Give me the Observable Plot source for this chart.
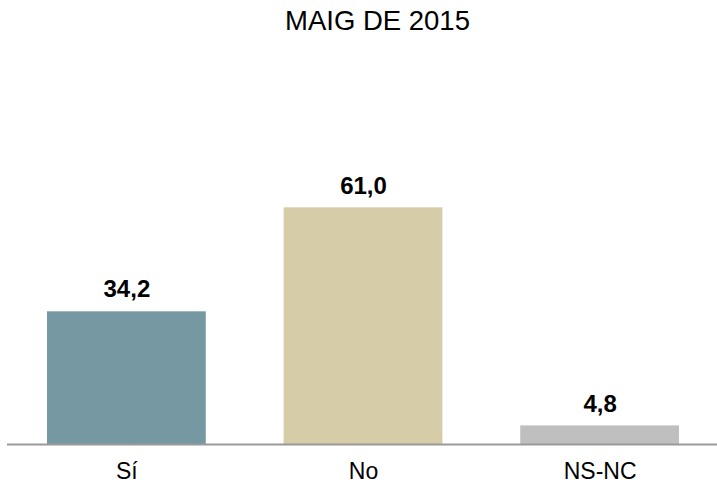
<!DOCTYPE html>
<html><head><meta charset="utf-8">
<script src="https://cdn.jsdelivr.net/npm/d3@7"></script>
<script src="https://cdn.jsdelivr.net/npm/@observablehq/plot@0.6"></script>
<style>
body{margin:0;background:#fff;font-family:"Liberation Sans",Arial,sans-serif;}
#wrap{position:relative;width:717px;height:484px;overflow:hidden;}
#title{position:absolute;top:5px;left:0;width:755px;text-align:center;font-size:27.5px;color:#000;white-space:nowrap;}
</style></head>
<body><div id="wrap"><div id="title">MAIG DE 2015</div></div>
<script>
const categories = ["Sí", "No", "NS-NC"];
const values = [34.2, 61.0, 4.8];
const labels = ["34,2", "61,0", "4,8"];
const colors = ["#7698a3", "#d6cda8", "#bfbfbf"];
const data = categories.map((c, i) => ({cat: c, v: values[i], lab: labels[i]}));
const chart = Plot.plot({
  width: 717, height: 484,
  marginLeft: 7, marginRight: -2, marginTop: 56, marginBottom: 40,
  style: {fontFamily: "Liberation Sans, Arial, sans-serif", background: "transparent", overflow: "visible"},
  x: {domain: categories, paddingInner: 0.329, paddingOuter: 0.169, round: false, axis: null},
  y: {domain: [0, 100], axis: null},
  color: {domain: categories, range: colors},
  marks: [
    Plot.barY(data, {x: "cat", y: "v", fill: "cat", insetLeft: 0, insetRight: 0}),
    Plot.ruleY([0], {stroke: "#999", strokeWidth: 2}),
    Plot.text(data, {x: "cat", y: "v", text: "lab", dy: -22, fontSize: 24, fontWeight: "bold", fill: "#000"}),
    Plot.text(data, {x: "cat", y: 0, text: "cat", dy: 27.5, fontSize: 23, fill: "#000"})
  ]
});
chart.style.position = "absolute"; chart.style.top = "0"; chart.style.left = "0";
document.getElementById("wrap").appendChild(chart);
</script></body></html>
